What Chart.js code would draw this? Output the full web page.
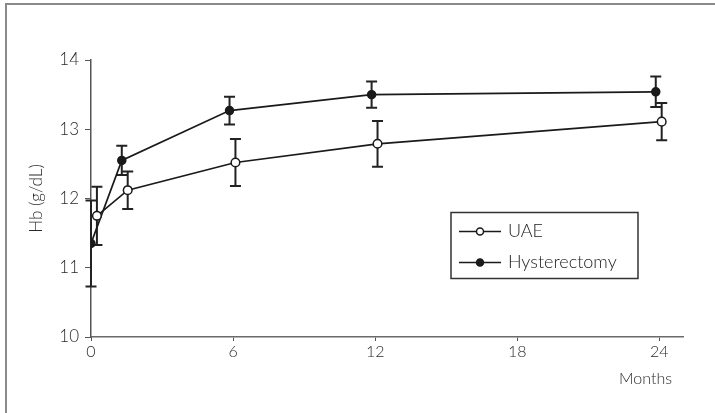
<!DOCTYPE html>
<html><head><meta charset="utf-8">
<script src="https://cdn.jsdelivr.net/npm/chart.js@4/dist/chart.umd.min.js"></script>
<style>
html,body{margin:0;padding:0;background:#fff;}
#wrap{position:relative;width:715px;height:413px;overflow:hidden;}
#frame{position:absolute;left:5px;top:3px;right:-5px;bottom:-5px;border-left:2px solid #8a8a8a;border-top:2px solid #8a8a8a;pointer-events:none;}
canvas{position:absolute;left:0;top:0;}
</style></head><body>
<div id="wrap"><canvas id="c" width="715" height="413"></canvas><div id="frame"></div></div>
<script>
const seriesNames = ['UAE', 'Hysterectomy'];
const uaeMonths = [0.25, 1.55, 6.1, 12.1, 24.1];
const uaeHb = [11.75, 12.12, 12.52, 12.79, 13.11];
const uaeErr = [0.42, 0.27, 0.34, 0.33, 0.27];
const hystMonths = [0, 1.3, 5.85, 11.85, 23.85];
const hystHb = [11.35, 12.55, 13.27, 13.50, 13.54];
const hystErr = [0.62, 0.21, 0.20, 0.19, 0.22];
const xTicks = [0, 6, 12, 18, 24];
const yTicks = [10, 11, 12, 13, 14];
const xTitle = 'Months';
const yTitle = 'Hb (g/dL)';

const FONT = 'Lato, "DejaVu Sans", sans-serif';
const INK = '#1a1a1a';

const errorBars = {
  id: 'errorBars',
  beforeDatasetsDraw(chart) {
    const {ctx, scales: {x, y}} = chart;
    ctx.save();
    ctx.strokeStyle = '#222';
    ctx.lineWidth = 2;
    chart.data.datasets.forEach(ds => {
      ds.data.forEach((p, i) => {
        const px = x.getPixelForValue(p.x);
        const top = y.getPixelForValue(p.y + ds.err[i]);
        const bot = y.getPixelForValue(p.y - ds.err[i]);
        ctx.beginPath();
        ctx.moveTo(px, top); ctx.lineTo(px, bot);
        ctx.moveTo(px - 5.5, top); ctx.lineTo(px + 5.5, top);
        ctx.moveTo(px - 5.5, bot); ctx.lineTo(px + 5.5, bot);
        ctx.stroke();
      });
    });
    ctx.restore();
  }
};

const extras = {
  id: 'extras',
  afterDraw(chart) {
    const {ctx, chartArea: ca, scales: {x, y}} = chart;
    ctx.save();
    ctx.fillStyle = '#2a2a2a';
    ctx.font = '300 17px ' + FONT;
    ctx.textAlign = 'center';
    ctx.textBaseline = 'middle';
    ctx.translate(37, (ca.top + ca.bottom) / 2);
    ctx.rotate(-Math.PI / 2);
    ctx.fillText(yTitle, 0, 0);
    ctx.restore();
    ctx.save();
    ctx.fillStyle = '#2a2a2a';
    ctx.font = '300 16px ' + FONT;
    ctx.textAlign = 'right';
    ctx.textBaseline = 'middle';
    ctx.fillText(xTitle, x.right - 11, 379);
    ctx.restore();
    ctx.save();
    const bx = ca.left + 360, by = ca.top + 152.5, bw = 187, bh = 66;
    ctx.strokeStyle = '#333';
    ctx.lineWidth = 1.5;
    ctx.strokeRect(bx, by, bw, bh);
    chart.data.datasets.forEach((ds, i) => {
      const ly = by + 19 + i * 31;
      ctx.strokeStyle = INK;
      ctx.lineWidth = 1.5;
      ctx.beginPath();
      ctx.moveTo(bx + 8, ly); ctx.lineTo(bx + 50, ly);
      ctx.stroke();
      ctx.beginPath();
      ctx.arc(bx + 29, ly, 3.5, 0, Math.PI * 2);
      ctx.fillStyle = ds.pointBackgroundColor;
      ctx.fill();
      ctx.stroke();
      ctx.fillStyle = '#222';
      ctx.font = '300 18px ' + FONT;
      ctx.textAlign = 'left';
      ctx.textBaseline = 'middle';
      ctx.fillText(ds.label, bx + 57, ly);
    });
    ctx.restore();
  }
};

const mk = (xs, ys) => xs.map((v, i) => ({x: v, y: ys[i]}));

new Chart(document.getElementById('c'), {
  type: 'scatter',
  data: {
    datasets: [
      {
        label: seriesNames[0], data: mk(uaeMonths, uaeHb), err: uaeErr,
        showLine: true, borderColor: INK, borderWidth: 1.7,
        pointBackgroundColor: '#ffffff', pointBorderColor: INK, pointBorderWidth: 1.5,
        pointRadius: 4.3, pointHoverRadius: 4.3
      },
      {
        label: seriesNames[1], data: mk(hystMonths, hystHb), err: hystErr,
        showLine: true, borderColor: INK, borderWidth: 1.7,
        pointBackgroundColor: INK, pointBorderColor: INK, pointBorderWidth: 1.5,
        pointRadius: 4, pointHoverRadius: 4
      }
    ]
  },
  options: {
    responsive: false,
    animation: false,
    devicePixelRatio: 1,
    layout: {padding: {top: 60, right: 32, left: 0, bottom: 0}},
    plugins: {legend: {display: false}, tooltip: {enabled: false}},
    scales: {
      x: {
        type: 'linear', min: 0, max: 25,
        afterFit: s => { s.height = 76; },
        afterBuildTicks: s => { s.ticks = xTicks.map(v => ({value: v})); },
        border: {display: true, color: '#6a6a6a', width: 1.5},
        grid: {display: true, drawOnChartArea: false, drawTicks: true, tickLength: 4, color: '#555'},
        ticks: {color: '#2a2a2a', font: {family: FONT, size: 16, weight: '300'}, padding: 1, maxRotation: 0}
      },
      y: {
        type: 'linear', min: 10, max: 14,
        afterFit: s => { s.width = 91; },
        afterBuildTicks: s => { s.ticks = yTicks.map(v => ({value: v})); },
        border: {display: true, color: '#555', width: 1.5},
        grid: {display: true, drawOnChartArea: false, drawTicks: true, tickLength: 6, color: '#555'},
        ticks: {color: '#2a2a2a', font: {family: FONT, size: 17, weight: '300'}, padding: 6}
      }
    }
  },
  plugins: [errorBars, extras]
});
</script>
</body></html>
